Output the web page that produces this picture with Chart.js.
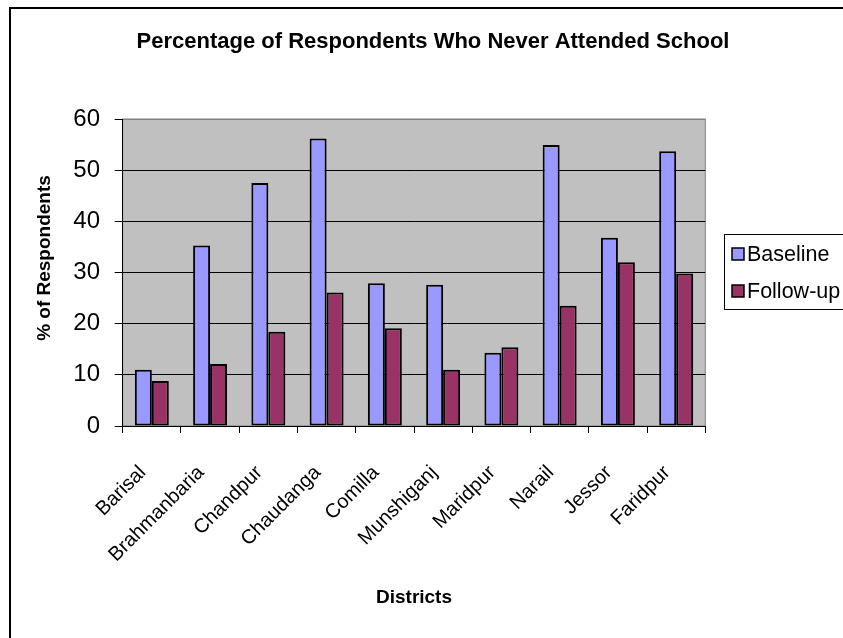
<!DOCTYPE html>
<html>
<head>
<meta charset="utf-8">
<script src="https://cdn.jsdelivr.net/npm/chart.js@4"></script>
<style>
  html, body { margin: 0; padding: 0; background: #fff; }
  #wrap { width: 843px; height: 638px; position: relative; }
</style>
</head>
<body>
<div id="wrap"><canvas id="c" width="843" height="638"></canvas></div>
<script>
const districts = ['Barisal', 'Brahmanbaria', 'Chandpur', 'Chaudanga', 'Comilla', 'Munshiganj', 'Maridpur', 'Narail', 'Jessor', 'Faridpur'];
const baseline = [11.0, 35.3, 47.5, 56.2, 27.9, 27.6, 14.3, 54.9, 36.8, 53.7];
const followUp = [8.8, 12.1, 18.4, 26.1, 19.1, 11.0, 15.4, 23.5, 32.0, 29.8];
const yTicks = [0, 10, 20, 30, 40, 50, 60];
const seriesNames = ['Baseline', 'Follow-up'];
const chartTitle = 'Percentage of Respondents Who Never Attended School';
const xTitle = 'Districts';
const yTitle = '% of Respondents';

const FONT = "'Liberation Sans', Arial, sans-serif";

const decor = {
  id: 'decor',
  beforeDraw(chart) {
    const {ctx, chartArea: a} = chart;
    ctx.save();
    ctx.fillStyle = '#fff';
    ctx.fillRect(0, 0, chart.width, chart.height);
    ctx.fillStyle = '#C0C0C0';
    ctx.fillRect(a.left, a.top, a.right - a.left, a.bottom - a.top);
    ctx.strokeStyle = '#808080';
    ctx.lineWidth = 1;
    ctx.strokeRect(a.left, a.top, a.right - a.left, a.bottom - a.top);
    ctx.restore();
  },
  afterDraw(chart) {
    const {ctx} = chart;
    ctx.save();
    // outer frame
    ctx.strokeStyle = '#000';
    ctx.lineWidth = 2;
    ctx.strokeRect(10, 8, 1000, 1000);
    // y-axis title
    ctx.fillStyle = '#000';
    ctx.font = 'bold 19px ' + FONT;
    ctx.textAlign = 'center';
    ctx.textBaseline = 'middle';
    ctx.translate(45, 258);
    ctx.rotate(-Math.PI / 2);
    ctx.fillText(yTitle, 0, 0);
    ctx.restore();
    // legend
    ctx.save();
    ctx.strokeStyle = '#000';
    ctx.lineWidth = 1;
    ctx.strokeRect(724.5, 234.5, 200, 75);
    ctx.font = '21.5px ' + FONT;
    ctx.textAlign = 'left';
    ctx.textBaseline = 'middle';
    chart.data.datasets.forEach((ds, i) => {
      const y = 248 + i * 37;
      ctx.fillStyle = ds.backgroundColor;
      ctx.fillRect(732, y, 12, 12);
      ctx.strokeStyle = '#000';
      ctx.lineWidth = 1.5;
      ctx.strokeRect(732, y, 12, 12);
      ctx.fillStyle = '#000';
      ctx.fillText(ds.label, 747, y + 7);
    });
    ctx.restore();
  }
};

new Chart(document.getElementById('c'), {
  type: 'bar',
  data: {
    labels: districts,
    datasets: [
      { label: seriesNames[0], data: baseline, backgroundColor: '#9999FF', borderColor: '#000', borderWidth: 2, borderSkipped: false },
      { label: seriesNames[1], data: followUp, backgroundColor: '#993366', borderColor: '#000', borderWidth: 2, borderSkipped: false }
    ]
  },
  options: {
    responsive: false,
    animation: false,
    devicePixelRatio: 1,
    layout: { padding: { left: 23, right: 0, top: 0, bottom: 0 } },
    datasets: { bar: { categoryPercentage: 0.583, barPercentage: 1.0 } },
    plugins: {
      legend: { display: false },
      tooltip: { enabled: false },
      title: {
        display: true,
        text: chartTitle,
        color: '#000',
        font: { family: FONT, size: 22, weight: 'bold', lineHeight: 1.2 },
        padding: { top: 28.8, bottom: 63.8 }
      }
    },
    scales: {
      x: {
        grid: { display: true, drawOnChartArea: false, drawTicks: true, tickLength: 7, color: '#000', offset: true },
        border: { display: true, color: '#000', width: 1 },
        ticks: {
          color: '#000',
          font: { family: FONT, size: 20 },
          maxRotation: 45, minRotation: 45, autoSkip: false,
          padding: 28,
          labelOffset: -9
        },
        title: {
          display: true, text: xTitle, color: '#000',
          font: { family: FONT, size: 19, weight: 'bold', lineHeight: 1.2 },
          padding: { top: 0, bottom: 28.6 }
        },
        afterFit(scale) { scale.height = 212; }
      },
      y: {
        min: 0, max: 60,
        afterBuildTicks(scale) { scale.ticks = yTicks.map(v => ({ value: v })); },
        grid: {
          color: ctx => (ctx.tick && ctx.tick.value === 60) ? '#808080' : '#000',
          tickColor: '#000',
          lineWidth: 1, tickLength: 8, drawTicks: true
        },
        border: { display: true, color: '#000', width: 1 },
        ticks: {
          color: '#000',
          font: { family: FONT, size: 24 },
          padding: 14.7
        },
        afterFit(scale) { scale.width = 99.7; }
      },
      legendSpace: {
        type: 'linear',
        position: 'right',
        display: true,
        grid: { display: false },
        border: { display: false },
        ticks: { display: false },
        afterFit(scale) { scale.width = 137.7; }
      }
    }
  },
  plugins: [decor]
});
</script>
</body>
</html>
